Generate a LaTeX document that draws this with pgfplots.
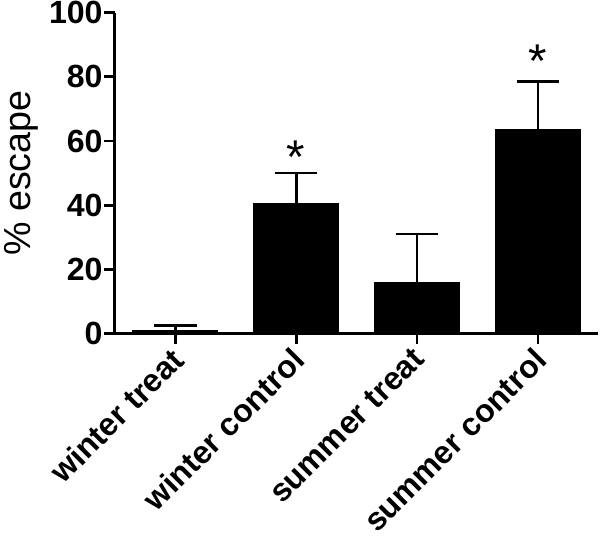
\documentclass[border=0pt]{standalone}
\usepackage{fontspec}
\setmainfont{Liberation Sans}
\usepackage{pgfplots}
\pgfplotsset{compat=1.18}

\pgfplotstableread{
x y err
0 1.0 1.5
1 40.5 9.5
2 15.8 15.2
3 63.6 15.0
}\escapedata

\begin{document}
\begin{tikzpicture}
\begin{axis}[
  scale only axis, width=347pt, height=230pt,
  xmin=-0.5, xmax=3.5, ymin=0, ymax=100,
  axis lines*=left,
  axis line style={line width=2.2pt},
  every tick/.style={black, line width=2pt},
  tick align=outside, major tick length=7.5pt,
  xtick={0,1,2,3},
  xticklabels={winter treat, winter control, summer treat, summer control},
  x tick label style={rotate=45, anchor=north east, xshift=-3pt, yshift=3pt,
    font=\bfseries\fontsize{23}{23}\selectfont, inner sep=1pt},
  ytick={0,20,40,60,80,100},
  /pgf/number format/assume math mode=true,
  y tick label style={font=\bfseries\fontsize{23}{23}\selectfont, inner sep=1pt},
  ylabel={\% escape},
  ylabel style={font=\fontsize{27}{27}\selectfont, yshift=3pt},
  clip=false,
]
\addplot[ybar, bar width=61pt, fill=black, draw=black,
  error bars/.cd, y dir=plus, y explicit,
  error bar style={line width=2pt, black},
  error mark options={rotate=90, mark size=15.3pt, line width=2pt, black}]
  table[x=x, y=y, y error=err] {\escapedata};
\addplot[draw=none, mark=none, nodes near coords={*},
  every node near coord/.style={anchor=center, font=\fontsize{34}{34}\selectfont}]
  coordinates {(1,55) (3,85)};
\end{axis}
\end{tikzpicture}
\end{document}
